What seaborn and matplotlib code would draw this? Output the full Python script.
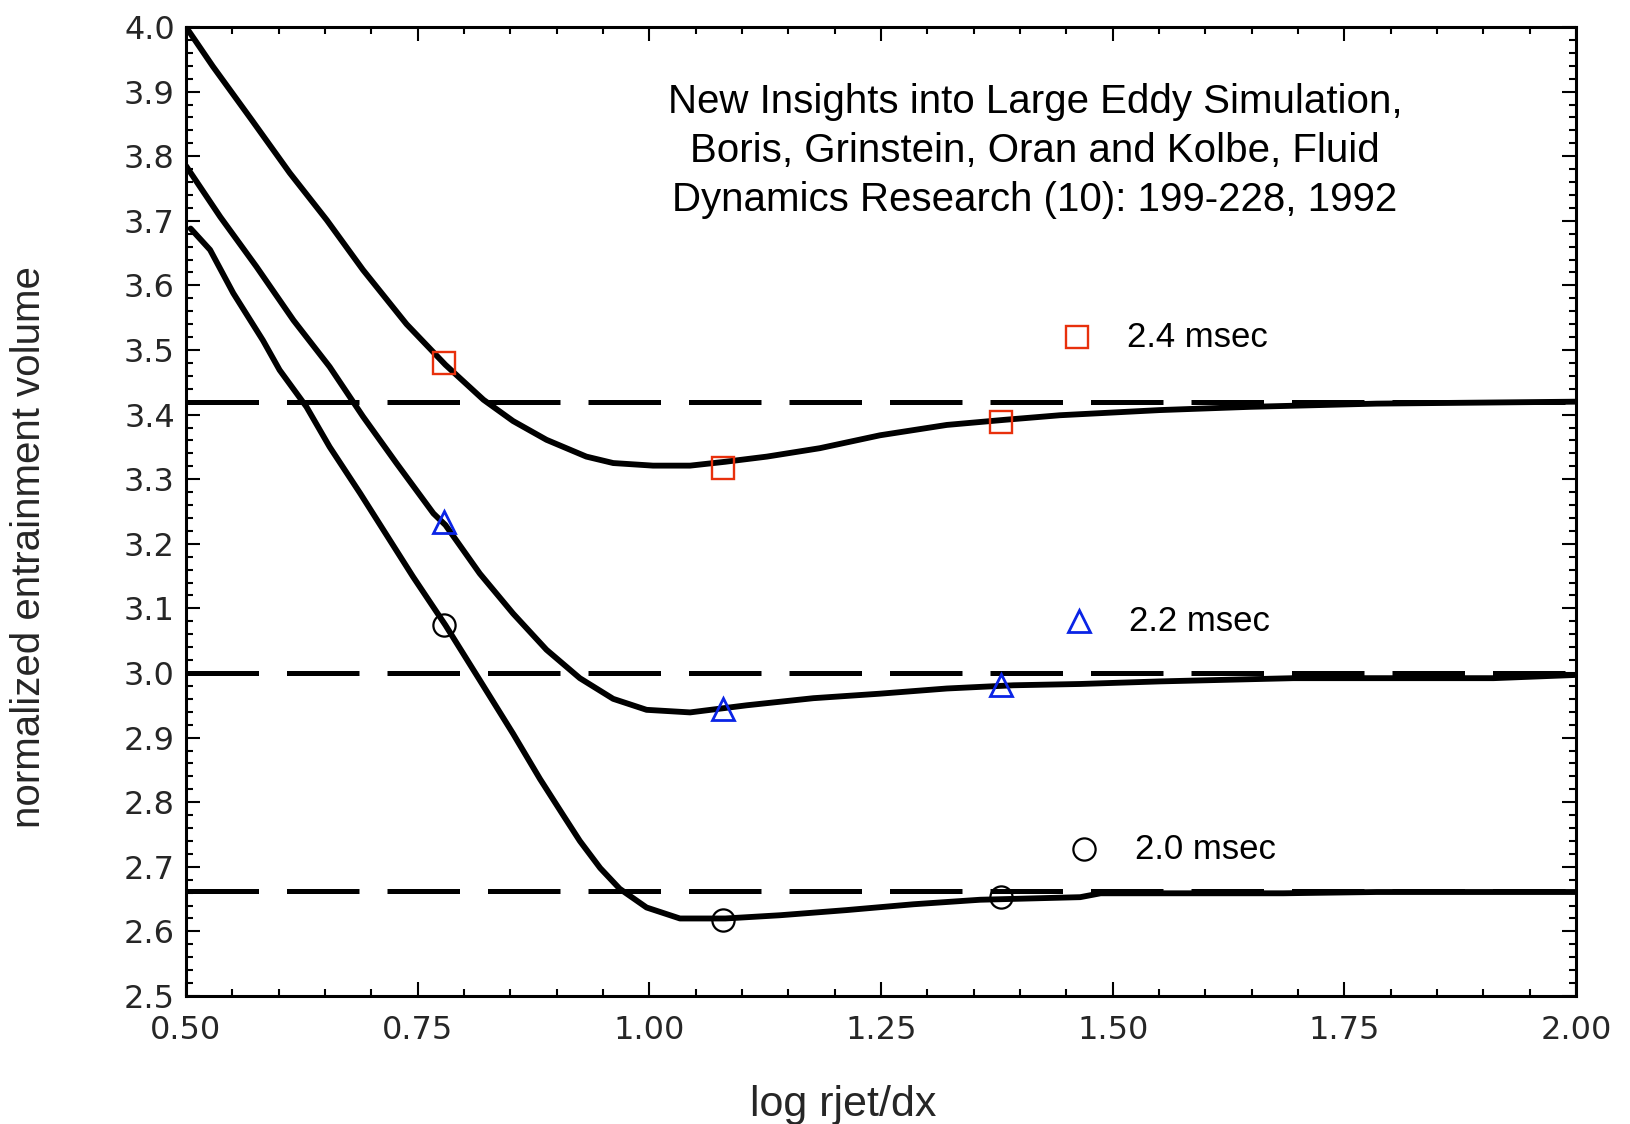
import numpy as np
import pandas as pd
import matplotlib
matplotlib.use("Agg")
import matplotlib.pyplot as plt
from matplotlib.ticker import MultipleLocator
import seaborn as sns

# ---- data ----
top_x = [0.50, 0.529, 0.571, 0.612, 0.652, 0.691, 0.738, 0.780, 0.821, 0.853, 0.889, 0.932,
         0.961, 1.004, 1.044, 1.082, 1.127, 1.184, 1.249, 1.321, 1.384, 1.443, 1.551, 1.648,
         1.785, 2.0]
top_y = [4.00, 3.939, 3.856, 3.774, 3.701, 3.624, 3.540, 3.477, 3.423, 3.390, 3.361, 3.335,
         3.325, 3.321, 3.321, 3.327, 3.335, 3.348, 3.368, 3.384, 3.392, 3.399, 3.407, 3.412,
         3.417, 3.420]

mid_x = [0.50, 0.537, 0.576, 0.616, 0.655, 0.691, 0.727, 0.767, 0.780, 0.817, 0.853, 0.889,
         0.925, 0.961, 0.997, 1.044, 1.105, 1.177, 1.249, 1.321, 1.393, 1.465, 1.551, 1.695,
         1.803, 1.911, 2.0]
mid_y = [3.785, 3.706, 3.629, 3.546, 3.474, 3.397, 3.325, 3.247, 3.229, 3.154, 3.092, 3.036,
         2.992, 2.960, 2.943, 2.939, 2.950, 2.961, 2.968, 2.976, 2.981, 2.983, 2.987, 2.992,
         2.992, 2.992, 2.997]

bot_x = [0.505, 0.526, 0.551, 0.583, 0.601, 0.630, 0.655, 0.688, 0.745, 0.780, 0.817, 0.853,
         0.882, 0.907, 0.925, 0.947, 0.968, 0.997, 1.033, 1.082, 1.141, 1.213, 1.285, 1.357,
         1.465, 1.487, 1.684, 1.785, 1.896, 2.0]
bot_y = [3.688, 3.655, 3.588, 3.515, 3.469, 3.412, 3.350, 3.278, 3.149, 3.074, 2.989, 2.906,
         2.836, 2.780, 2.740, 2.698, 2.666, 2.637, 2.620, 2.620, 2.625, 2.633, 2.642, 2.649,
         2.653, 2.659, 2.659, 2.661, 2.661, 2.661]

marker_x = [0.778, 1.079, 1.380]
square_y = [3.48, 3.318, 3.388]
triangle_y = [3.233, 2.945, 2.982]
circle_y = [3.075, 2.617, 2.654]

asymptotes = [3.42, 3.0, 2.663]

legend_labels = ["2.4 msec", "2.2 msec", "2.0 msec"]
legend_marker_x = [1.461, 1.464, 1.469]
legend_text_x = [1.516, 1.518, 1.524]
legend_y = [3.520, 3.080, 2.727]

title_text = ("New Insights into Large Eddy Simulation,\n"
              "Boris, Grinstein, Oran and Kolbe, Fluid\n"
              "Dynamics Research (10): 199-228, 1992")

x_ticks = [0.50, 0.75, 1.00, 1.25, 1.50, 1.75, 2.00]
y_ticks = [2.5, 2.6, 2.7, 2.8, 2.9, 3.0, 3.1, 3.2, 3.3, 3.4, 3.5, 3.6, 3.7, 3.8, 3.9, 4.0]

# ---- style ----
sns.set_theme(style="white")
plt.rcParams['font.family'] = ['Liberation Sans', 'DejaVu Sans']

RED = "#E8300C"
BLUE = "#0A24E6"

fig = plt.figure(figsize=(16.31, 11.24), dpi=100)
ax = fig.add_axes([186 / 1631, 1 - 996 / 1124, 1390 / 1631, 969 / 1124])

for yv in asymptotes:
    ax.axhline(yv, color="black", lw=3.6, dashes=(14.5, 5.6), dash_capstyle="butt", zorder=2)

curves = pd.concat([
    pd.DataFrame({"x": top_x, "y": top_y, "c": "2.4"}),
    pd.DataFrame({"x": mid_x, "y": mid_y, "c": "2.2"}),
    pd.DataFrame({"x": bot_x, "y": bot_y, "c": "2.0"}),
])
sns.lineplot(data=curves, x="x", y="y", units="c", estimator=None, sort=False,
             color="black", lw=4.2, ax=ax, zorder=3)
for ln in ax.lines[len(asymptotes):]:
    ln.set_solid_joinstyle("round")

mk = dict(linestyle="none", markerfacecolor="none", zorder=4)
ax.plot(marker_x, square_y, marker="s", markersize=16, markeredgecolor=RED, markeredgewidth=1.7, **mk)
ax.plot(marker_x, triangle_y, marker="^", markersize=16, markeredgecolor=BLUE, markeredgewidth=2.0, **mk)
ax.plot(marker_x, circle_y, marker="o", markersize=16, markeredgecolor="black", markeredgewidth=1.6, **mk)

# legend-like annotations
ax.plot([legend_marker_x[0]], [legend_y[0]], marker="s", markersize=16, markeredgecolor=RED, markeredgewidth=1.7, **mk)
ax.plot([legend_marker_x[1]], [legend_y[1]], marker="^", markersize=16, markeredgecolor=BLUE, markeredgewidth=2.0, **mk)
ax.plot([legend_marker_x[2]], [legend_y[2]], marker="o", markersize=16, markeredgecolor="black", markeredgewidth=1.6, **mk)
for tx, ty, lab in zip(legend_text_x, legend_y, legend_labels):
    ax.text(tx, ty, lab, fontsize=25, ha="left", va="center", color="black")

ax.text(1.416, 3.808, title_text, fontsize=29, ha="center", va="center",
        linespacing=1.38, color="black")

ax.set_xlim(0.5, 2.0)
ax.set_ylim(2.5, 4.0)
ax.set_xticks(x_ticks)
ax.set_xticklabels([f"{v:.2f}" for v in x_ticks])
ax.set_yticks(y_ticks)
ax.set_yticklabels([f"{v:.1f}" for v in y_ticks])
ax.xaxis.set_minor_locator(MultipleLocator(0.05))
ax.yaxis.set_minor_locator(MultipleLocator(0.02))

ax.tick_params(which="both", direction="in", top=True, right=True, bottom=True, left=True,
               color="black", width=1.5)
ax.tick_params(which="major", length=10)
ax.tick_params(which="minor", length=5)
ax.tick_params(axis="x", which="major", labelsize=23, pad=14)
ax.tick_params(axis="y", which="major", labelsize=23, pad=8)
for lab in ax.get_xticklabels() + ax.get_yticklabels():
    lab.set_family(["DejaVu Sans"])

for s in ax.spines.values():
    s.set_visible(True)
    s.set_color("black")
    s.set_linewidth(2.2)

ax.set_xlabel("log rjet/dx", fontsize=31)
ax.set_ylabel("normalized entrainment volume", fontsize=29)
ax.xaxis.set_label_coords(0.473, -0.092)
ax.yaxis.set_label_coords(-0.099, 0.4635)

fig.savefig("out.png", dpi=100)
